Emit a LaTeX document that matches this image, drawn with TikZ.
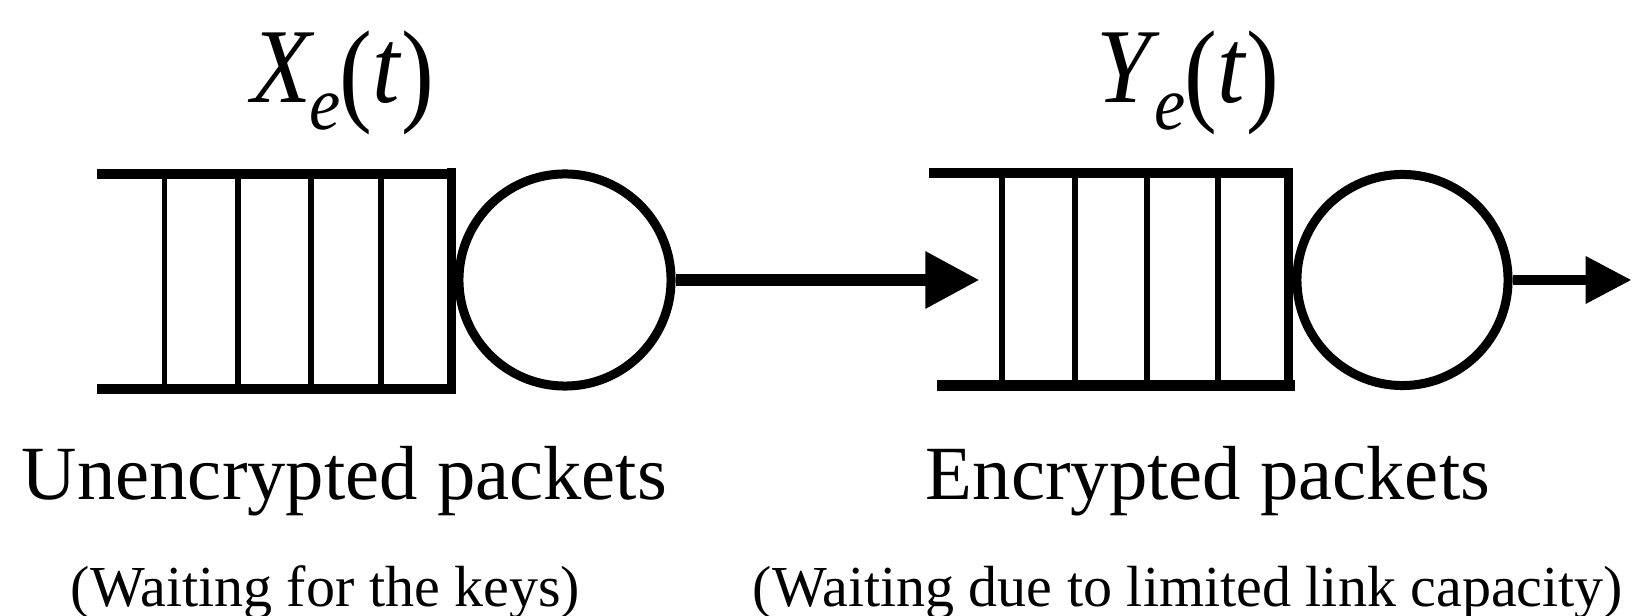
\documentclass[tikz,border=0pt]{standalone}
\usepackage{fontspec}
\setmainfont{Liberation Serif}
\usetikzlibrary{arrows.meta}
\newcommand{\mylab}[1]{\scalebox{1}[1.08]{\fontsize{28}{30}\selectfont\textit{#1}\kern-1.5pt\raisebox{-7.2pt}{\fontsize{20}{20}\selectfont\textit{e}}\kern-0.5pt\raisebox{-2pt}{\scalebox{1}[1.08]{\fontsize{28}{30}\selectfont(}}\textit{t}\raisebox{-2pt}{\scalebox{1}[1.08]{\fontsize{28}{30}\selectfont)}}}}
\tikzset{
  qline/.style={line width=3pt},
  qbar/.style={line width=2.56pt},
  divider/.style={line width=1.56pt},
  srv/.style={circle, draw, line width=2.56pt, minimum size=2.12cm, inner sep=0pt},
  flow/.style={line width=3.4pt, -{Triangle[length=0.54cm,width=0.54cm]}},
  outflow/.style={line width=2.85pt, -{Triangle[length=0.46cm,width=0.45cm]}},
  big/.style={anchor=base, inner sep=0pt, font=\fontsize{21.8}{24}\selectfont},
  small/.style={anchor=base, inner sep=0pt, font=\fontsize{16.5}{19}\selectfont},
  lab/.style={anchor=base, inner sep=0pt}
}
\begin{document}
\begin{tikzpicture}[x=0.01cm, y=-0.01cm]
\path[use as bounding box] (0,0) rectangle (1633,616);
% left queue
\draw[qline] (97,174) -- (451,174);
\draw[qline] (97,389) -- (451,389);
\draw[qbar] (451,168.5) -- (451,394);
\foreach \x in {164.5,238,310.8,380.8} \draw[divider] (\x,174) -- (\x,389);
\node[srv] (c1) at (565,280) {};
% right queue
\draw[qline] (929,173) -- (1289,173);
\draw[qline] (936.5,385.5) -- (1295,385.5);
\draw[qbar] (1288,168) -- (1288,390.5);
\foreach \x in {1002,1075,1147,1218} \draw[divider] (\x,173) -- (\x,385.5);
\node[srv, minimum size=2.11cm] (c2) at (1402.5,280) {};
% connectors
\coordinate (in2) at (979.5,280);
\coordinate (out) at (1631.6,280);
\draw[flow] (c1.east) -- (in2);
\draw[outflow] (c2.east) -- (out);
% labels
\node[lab] (xl) at (343,102.5) {\mylab{X}};
\node[lab] (yl) at (1188,102.5) {\mylab{Y}};
\node[big] (t1) at (344.4,499.5) {Unencrypted packets};
\node[big] (t2) at (1208,499.5) {Encrypted packets};
\node[small] (s1) at (325.5,606.7) {(Waiting for the keys)};
\node[small] (s2) at (1188,606.7) {(Waiting due to limited link capacity)};
\end{tikzpicture}
\end{document}
